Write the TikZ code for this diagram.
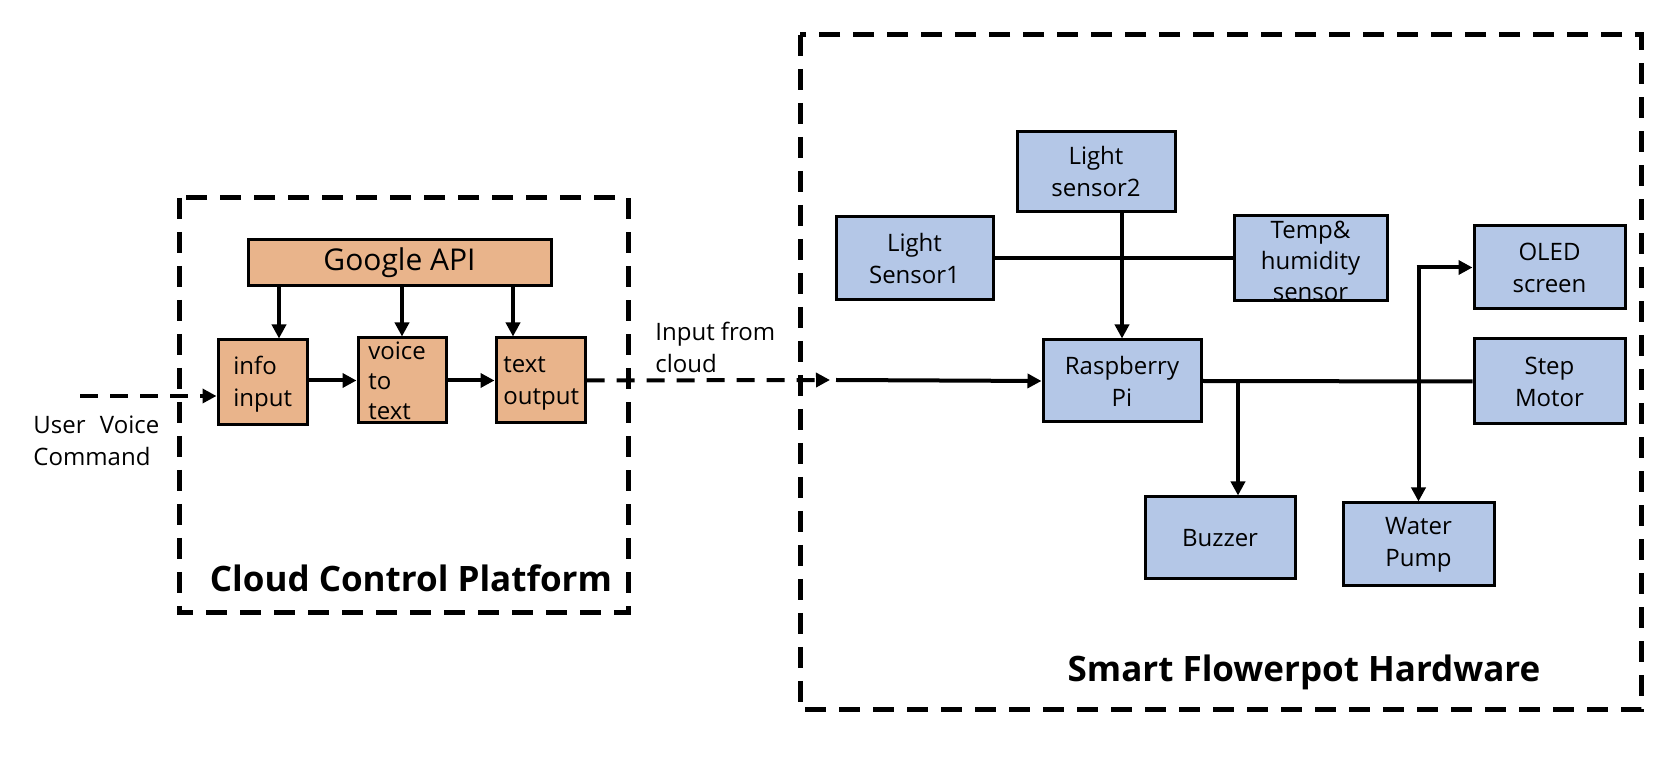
\documentclass[tikz,border=0pt]{standalone}
\usepackage{fontspec}
\setmainfont{Open Sans}
\usetikzlibrary{arrows.meta}
\definecolor{orfill}{RGB}{233,180,139}
\definecolor{blfill}{RGB}{180,199,231}
\begin{document}
\begin{tikzpicture}[x=0.5pt,y=-0.5pt,
  box/.style={draw=black,line width=1.5pt,inner sep=0pt,align=center,font=\fontsize{12}{16}\selectfont},
  obox/.style={box,fill=orfill},
  bbox/.style={box,fill=blfill},
  arr/.style={line width=2pt,-{Triangle[length=7pt,width=7pt]}},
  ln/.style={line width=2pt},
  dasharr/.style={line width=2pt,dash pattern=on 9pt off 6pt,-{Triangle[length=7pt,width=7pt]}},
  group/.style={draw,line width=2.5pt,dash pattern=on 10.5pt off 6.5pt},
  lbl/.style={inner sep=0pt,align=left,font=\fontsize{12}{16}\selectfont},
  title/.style={inner sep=0pt,font=\fontsize{17.5}{20}\selectfont\bfseries},
]
\useasboundingbox (0,0) rectangle (1678,780);
% group frames
\draw[group] (179,198) rectangle (628,613);
\draw[group] (800,35) rectangle (1641,710);
% cloud platform
\node[obox,minimum width=151.5pt,minimum height=23pt,font=\fontsize{15}{18}\selectfont] (G) at (399.5,263) {Google API};
\node[obox,minimum width=44.5pt,minimum height=42.5pt] (info) at (262.5,382.5) {};
\node[obox,minimum width=44pt,minimum height=42.5pt] (voice) at (402,380.5) {};
\node[obox,minimum width=44.5pt,minimum height=42.5pt] (tout) at (540.5,380.5) {};
\node[lbl,anchor=west] (infot) at (233,384) {info\\input};
\node[lbl,anchor=north west,font=\fontsize{12}{15}\selectfont] (voicet) at (368,341) {voice\\to\\text};
\node[lbl,anchor=west] (toutt) at (503,383) {text\\output};
\draw[arr] ([xshift=8.25pt]info.north |- G.south) -- ([xshift=8.25pt]info.north);
\draw[arr] (voice.north |- G.south) -- (voice.north);
\draw[arr] ([xshift=-13.75pt]tout.north |- G.south) -- ([xshift=-13.75pt]tout.north);
\draw[arr] (info.east |- voice.west) -- (voice.west);
\draw[arr] (voice.east) -- (tout.west);
\coordinate (uin) at (80,396);
\draw[dasharr] (uin) -- (info.west |- uin);
\node[lbl,anchor=north west] (user) at (33,415) {User\hspace{0.6em}Voice\\Command};
\node[lbl,anchor=north west] (incl) at (655,322) {Input from\\cloud};
\node[title] (cct) at (411,578) {Cloud Control Platform};
% hardware
\node[bbox,minimum width=78.5pt,minimum height=41.5pt] (LS1) at (914.5,258.5) {Light\\Sensor1};
\node[bbox,minimum width=79pt,minimum height=40pt] (LS2) at (1096,172) {Light\\sensor2};
\node[bbox,minimum width=76.5pt,minimum height=42.5pt] (TH) at (1310.5,258.5) {};
\node[lbl,align=center,anchor=north,font=\fontsize{12}{15.5}\selectfont] (THt) at (1310.5,221) {Temp\&\\humidity\\sensor};
\node[bbox,minimum width=79pt,minimum height=41pt] (Pi) at (1122,381) {Raspberry\\Pi};
\node[bbox,minimum width=75.5pt,minimum height=41.5pt] (OLED) at (1549.5,267.5) {OLED\\screen};
\node[bbox,minimum width=75.5pt,minimum height=42.5pt] (SM) at (1549.5,381.5) {Step\\Motor};
\node[bbox,minimum width=75pt,minimum height=41pt] (BZ) at (1220,538) {Buzzer};
\node[bbox,minimum width=75.5pt,minimum height=41.5pt] (WP) at (1418.5,544.5) {Water\\Pump};
\node[title] (sfh) at (1304,672) {Smart Flowerpot Hardware};
% connectors
\coordinate (hwtip) at (830,380);
\coordinate (hwin) at (836,380);
\draw[dasharr] (tout.east) -- (hwtip);
\draw[arr] (hwin) -- (Pi.west);
\draw[ln] (LS1.east) -- (TH.west);
\draw[arr] (Pi.north |- LS2.south) -- (Pi.north);
\draw[ln] (Pi.east) -- (SM.west);
\draw[arr] ([xshift=9pt]BZ.north |- Pi.east) -- ([xshift=9pt]BZ.north);
\coordinate (j) at (WP.north |- OLED.west);
\draw[arr] (WP.north |- SM.west) -- (WP.north);
\draw[ln] (j) -- (WP.north |- SM.west);
\draw[arr] ([xshift=-1pt]j) -- (OLED.west);
\end{tikzpicture}
\end{document}
